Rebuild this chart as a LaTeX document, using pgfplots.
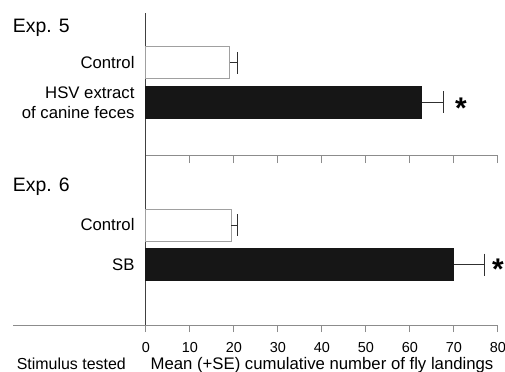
\documentclass[border=0pt]{standalone}
\usepackage{pgfplots}
\pgfplotsset{compat=1.18}
\usepackage{fontspec}
\setmainfont{Liberation Sans}
\definecolor{barblack}{HTML}{161616}
\definecolor{vaxis}{HTML}{404040}
\definecolor{haxis}{HTML}{8C8C8C}
\definecolor{outl}{HTML}{A0A0A0}
\definecolor{errc}{HTML}{303030}
\pgfplotsset{
  panel/.style={
    scale only axis, width=352bp, xmin=0, xmax=80, ymin=0,
    axis x line=bottom, axis y line=left,
    x axis line style={-, draw=haxis, line width=1bp},
    y axis line style={-, draw=vaxis, line width=1bp},
    xtick={0,10,...,80}, xtick align=outside, major tick length=7bp,
    xtick style={draw=haxis, line width=1bp},
    ytick style={draw=none},
    yticklabel style={align=right, font=\fontsize{16.8}{20}\selectfont, xshift=-1bp},
    xticklabel style={font=\fontsize{14.5}{17}\selectfont, yshift=-7bp},
    /pgf/number format/assume math mode=true,
    xbar, bar width=32, bar shift=0pt, clip=false,
    error bars/error bar style={draw=errc, line width=1bp},
    error bars/error mark options={rotate=90, draw=errc, line width=1bp, mark size=11bp},
  },
  whitebar/.style={draw=outl, fill=white, line width=1bp,
    error bars/.cd, x dir=plus, x explicit},
  blackbar/.style={draw=barblack, fill=barblack, line width=0bp,
    error bars/.cd, x dir=plus, x explicit},
}
\begin{document}
\begin{tikzpicture}
% Exp. 5
\begin{axis}[panel, at={(0,169bp)}, anchor=south west, height=143bp, ymax=143,
  ytick={53.5,93}, yticklabels={{HSV extract\\of canine feces},Control},
  xticklabels={}]
\addplot[whitebar] coordinates {(19,93) +- (1.7,0)};
\addplot[blackbar] coordinates {(62.7,53.5) +- (5.0,0)};
\node[anchor=base west, inner sep=0pt, font=\fontsize{19.5}{24}\selectfont] at (axis cs:-30.3,123) {Exp. 5};
\node[anchor=base, font=\fontsize{30}{30}\selectfont\bfseries] at (axis cs:71.6,37) {*};
\end{axis}
% Exp. 6
\begin{axis}[panel, at={(0,0)}, anchor=south west, height=169bp, ymax=169,
  ytick={60.5,100}, yticklabels={SB,Control},
  xlabel={Mean (+SE) cumulative number of fly landings},
  xlabel style={font=\fontsize{16.8}{20}\selectfont, at={(axis description cs:0.5,-0.2604)}, anchor=base, inner sep=0pt}]
\addplot[whitebar] coordinates {(19.4,100) +- (1.3,0)};
\addplot[blackbar] coordinates {(70,60.5) +- (7.0,0)};
\node[anchor=base west, inner sep=0pt, font=\fontsize{19.5}{24}\selectfont] at (axis cs:-30.3,134) {Exp. 6};
\node[anchor=base, font=\fontsize{30}{30}\selectfont\bfseries] at (axis cs:80,45.3) {*};
\node[anchor=base west, inner sep=0pt, font=\fontsize{16}{20}\selectfont] at (axis cs:-29.4,-44) {Stimulus tested};
\draw[haxis, line width=1bp] (axis cs:-30.2,0) -- (axis cs:0,0);
\end{axis}
\pgfresetboundingbox
\path (-146bp,-47bp) rectangle (359bp,325bp);
\end{tikzpicture}
\end{document}
